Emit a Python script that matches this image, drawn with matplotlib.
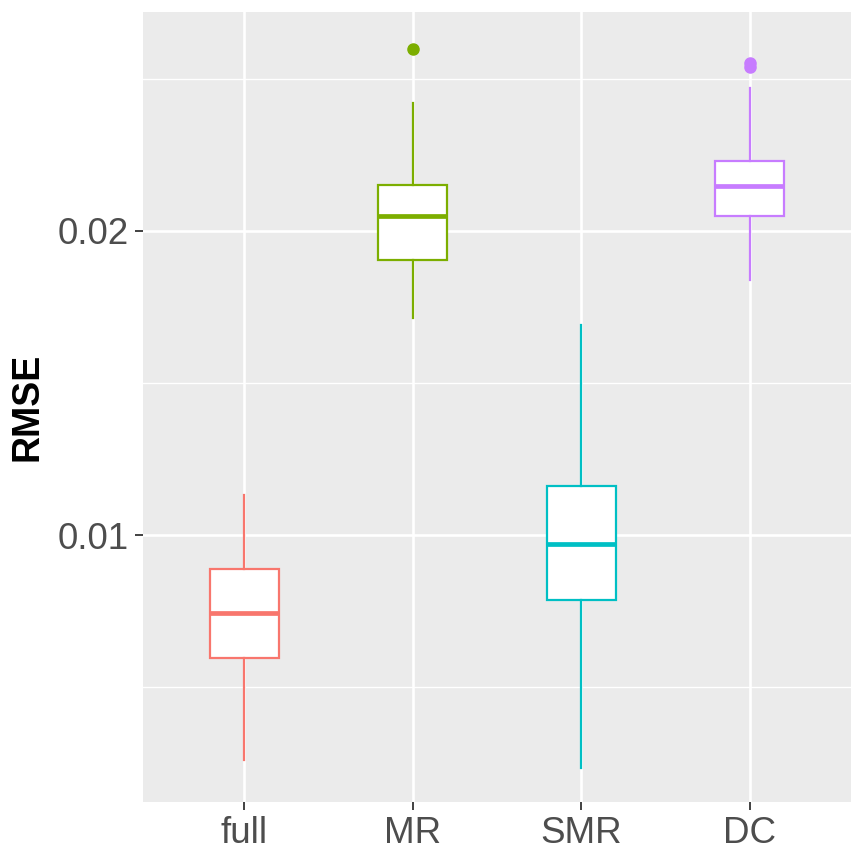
import matplotlib
matplotlib.use("Agg")
import matplotlib.pyplot as plt
from matplotlib.ticker import MultipleLocator

# Box summary values
methods = ["full", "MR", "SMR", "DC"]
whisker_low = [0.00260, 0.01714, 0.00234, 0.01839]
q1 = [0.00595, 0.01905, 0.00786, 0.02049]
median = [0.00743, 0.02049, 0.00970, 0.02148]
q3 = [0.00888, 0.02151, 0.01161, 0.02230]
whisker_high = [0.01132, 0.02421, 0.01691, 0.02470]
outliers = [[], [0.02599], [], [0.02553, 0.02540]]

colors = ["#F8766D", "#7CAE00", "#00BFC4", "#C77CFF"]

plt.rcParams['font.family'] = ['Liberation Sans', 'DejaVu Sans']

fig = plt.figure(figsize=(8.65, 8.65), dpi=100)
ax = fig.add_axes([143 / 865, 63 / 865, 708 / 865, 790 / 865])
ax.set_facecolor("#EBEBEB")

positions = list(range(1, len(methods) + 1))
for i, m in enumerate(methods):
    stats = [{
        "med": median[i], "q1": q1[i], "q3": q3[i],
        "whislo": whisker_low[i], "whishi": whisker_high[i],
        "fliers": outliers[i], "label": m,
    }]
    c = colors[i]
    ax.bxp(stats, positions=[positions[i]], widths=0.41, patch_artist=True,
           showcaps=False,
           boxprops=dict(facecolor="white", edgecolor=c, linewidth=1.6),
           medianprops=dict(color=c, linewidth=3.4, solid_capstyle="butt"),
           whiskerprops=dict(color=c, linewidth=1.6),
           flierprops=dict(marker="o", markerfacecolor=c, markeredgecolor=c,
                           markersize=8), zorder=3)

ax.set_xlim(0.4, 4.6)
ax.set_ylim(0.00122, 0.0272)
ax.set_xticks(positions)
ax.set_xticklabels(methods)
ax.yaxis.set_major_locator(MultipleLocator(0.01))
ax.yaxis.set_minor_locator(MultipleLocator(0.005))
ax.set_yticks([0.01, 0.02])
ax.set_yticklabels(["0.01", "0.02"])

ax.grid(which="major", color="white", linewidth=1.9, zorder=0)
ax.grid(which="minor", axis="y", color="white", linewidth=0.95, zorder=0)
ax.set_axisbelow(True)
for s in ax.spines.values():
    s.set_visible(False)

ax.tick_params(axis="both", which="major", length=6, width=1.3, color="#333333",
               labelsize=26.5, labelcolor="#4D4D4D", pad=4)
ax.tick_params(axis="both", which="minor", length=0)

ax.set_ylabel("RMSE", fontsize=27, fontweight="bold", color="black", labelpad=9)

fig.savefig("out.png", dpi=100)
